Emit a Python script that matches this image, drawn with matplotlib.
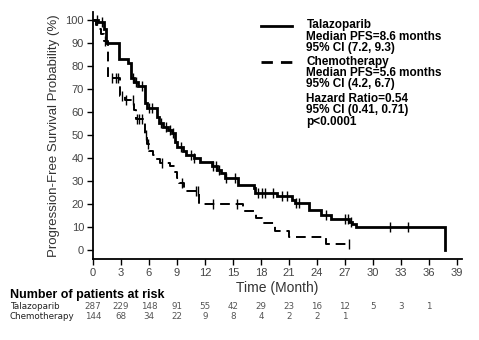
import numpy as np
import matplotlib
matplotlib.use("Agg")
import matplotlib.pyplot as plt
import matplotlib.transforms as mtransforms
from matplotlib.lines import Line2D

plt.rcParams['font.family'] = ['Liberation Sans', 'DejaVu Sans']

# Kaplan-Meier step curves: event times (months) and survival (%) after each step
tala_t = [0, 0.5, 1.2, 1.4, 2.8, 3.7, 4.1, 4.4, 4.8, 5.6, 5.8, 6.9, 7.1, 7.5, 8.0,
          8.5, 8.8, 9.0, 9.6, 10.0, 10.8, 11.5, 12.8, 13.3, 13.7, 14.1, 15.5, 17.2,
          17.4, 19.7, 21.3, 21.6, 23.2, 24.4, 25.5, 27.4, 27.8, 28.2, 37.7]
tala_s = [100, 99, 96, 90, 83, 81.5, 75, 73, 71.5, 64, 62, 58, 55.5, 53.5, 52.5,
          51, 47, 45, 43, 41.5, 40, 38.5, 36.5, 35, 33.5, 31.5, 28.5, 27,
          25, 23.5, 22, 20.5, 17.5, 15.5, 13.5, 12.5, 11.5, 10.3, 0]
tala_censor = [0.4, 1.0, 4.3, 4.6, 5.2, 6.0, 6.3, 7.3, 7.8, 8.3, 8.6, 9.4, 10.5,
               10.8, 12.9, 13.2, 13.5, 14.3, 15.2, 17.7, 18.1, 18.4, 19.3, 20.3,
               20.8, 21.8, 22.1, 25.0, 27.0, 27.3, 27.7, 31.8, 33.8]

chemo_t = [0, 0.3, 0.6, 0.9, 1.2, 1.6, 2.9, 3.4, 4.4, 4.6, 5.6, 5.8, 6.0, 6.4,
           6.8, 7.2, 8.3, 8.8, 9.0, 9.2, 9.8, 11.4, 16.1, 17.5, 18.1, 19.5, 21.0,
           25.0, 27.4]
chemo_s = [100, 98, 96, 94, 91, 75, 67, 65.5, 61, 57, 50, 46, 43, 41.5,
           39.5, 38, 36.5, 34, 31.5, 29.5, 26, 20, 17, 14, 12, 8.5, 6,
           3, 3]
chemo_censor = [1.3, 2.0, 2.5, 2.7, 3.1, 3.5, 4.3, 4.7, 4.9, 5.2, 5.7, 5.9, 7.4,
                9.5, 11.0, 11.2, 12.9, 15.4, 27.4]

risk_times = [0, 3, 6, 9, 12, 15, 18, 21, 24, 27, 30, 33, 36]
tala_risk = [287, 229, 148, 91, 55, 42, 29, 23, 16, 12, 5, 3, 1]
chemo_risk = [144, 68, 34, 22, 9, 8, 4, 2, 2, 1]

legend_lines = [
    ("Talazoparib", 25), ("Median PFS=8.6 months", 36.5), ("95% CI (7.2, 9.3)", 47.5),
    ("Chemotherapy", 62), ("Median PFS=5.6 months", 73), ("95% CI (4.2, 6.7)", 84),
    ("Hazard Ratio=0.54", 99), ("95% CI (0.41, 0.71)", 110), ("p<0.0001", 121.5),
]


def step_value(times, surv, t):
    idx = np.searchsorted(times, t, side='right') - 1
    return np.asarray(surv)[idx]


W, H = 479, 340
fig = plt.figure(figsize=(W / 100, H / 100), dpi=100)
ax = fig.add_axes([93 / W, 81 / H, (461.6 - 93) / W, (259 - 12) / H])

ax.step(tala_t, tala_s, where='post', color='black', lw=2.0, solid_joinstyle='miter')
ax.plot(tala_censor, step_value(tala_t, tala_s, tala_censor), ls='none',
        marker='|', ms=7, mew=1.0, color='black')

ax.step(chemo_t, chemo_s, where='post', color='black', lw=1.4, ls=(0, (5, 3)))
ax.plot(chemo_censor, step_value(chemo_t, chemo_s, chemo_censor), ls='none',
        marker='|', ms=7, mew=1.0, color='black')

ax.set_xlim(0, 39.5)
ax.set_ylim(-3.7, 103.5)
ax.set_xticks(np.arange(0, 40, 3))
ax.set_yticks(np.arange(0, 101, 10))
for side in ('top', 'right'):
    ax.spines[side].set_visible(False)
for side in ('left', 'bottom'):
    ax.spines[side].set_linewidth(1.3)
ax.tick_params(direction='out', length=4, width=1, labelsize=8,
               labelcolor='#444444', pad=2.5)
ax.set_xlabel("Time (Month)", fontsize=10, color='#333333', labelpad=2)
ax.set_ylabel("Progression-Free Survival Probability (%)", fontsize=9.5,
              color='#333333', labelpad=4)


def fy(y):
    return 1 - y / H


# legend block
fig.add_artist(Line2D([260.7 / W, 292.3 / W], [fy(25.5), fy(25.5)], color='black', lw=2.0))
fig.add_artist(Line2D([260.7 / W, 292.3 / W], [fy(62.3), fy(62.3)], color='black', lw=2.0,
                      ls=(0, (4.1, 2.9))))
for txt, y in legend_lines:
    fig.text(306.5 / W, fy(y), txt, fontsize=8.5, fontweight='bold', va='center',
             ha='left', color='black')

# numbers at risk
fig.text(10 / W, fy(295), "Number of patients at risk", fontsize=9, fontweight='bold',
         va='center', ha='left', color='black')
row_font = dict(fontsize=6.3, family='DejaVu Sans', va='center')
fig.text(10 / W, fy(306.5), "Talazoparib", ha='left', color='#222222', **row_font)
fig.text(10 / W, fy(316.5), "Chemotherapy", ha='left', color='#222222', **row_font)
trans = mtransforms.blended_transform_factory(ax.transData, fig.transFigure)
for t, n in zip(risk_times, tala_risk):
    ax.text(t, fy(306.5), str(n), transform=trans, ha='center', color='#555555', **row_font)
for t, n in zip(risk_times, chemo_risk):
    ax.text(t, fy(316.5), str(n), transform=trans, ha='center', color='#555555', **row_font)

fig.savefig("out.png", dpi=100)
